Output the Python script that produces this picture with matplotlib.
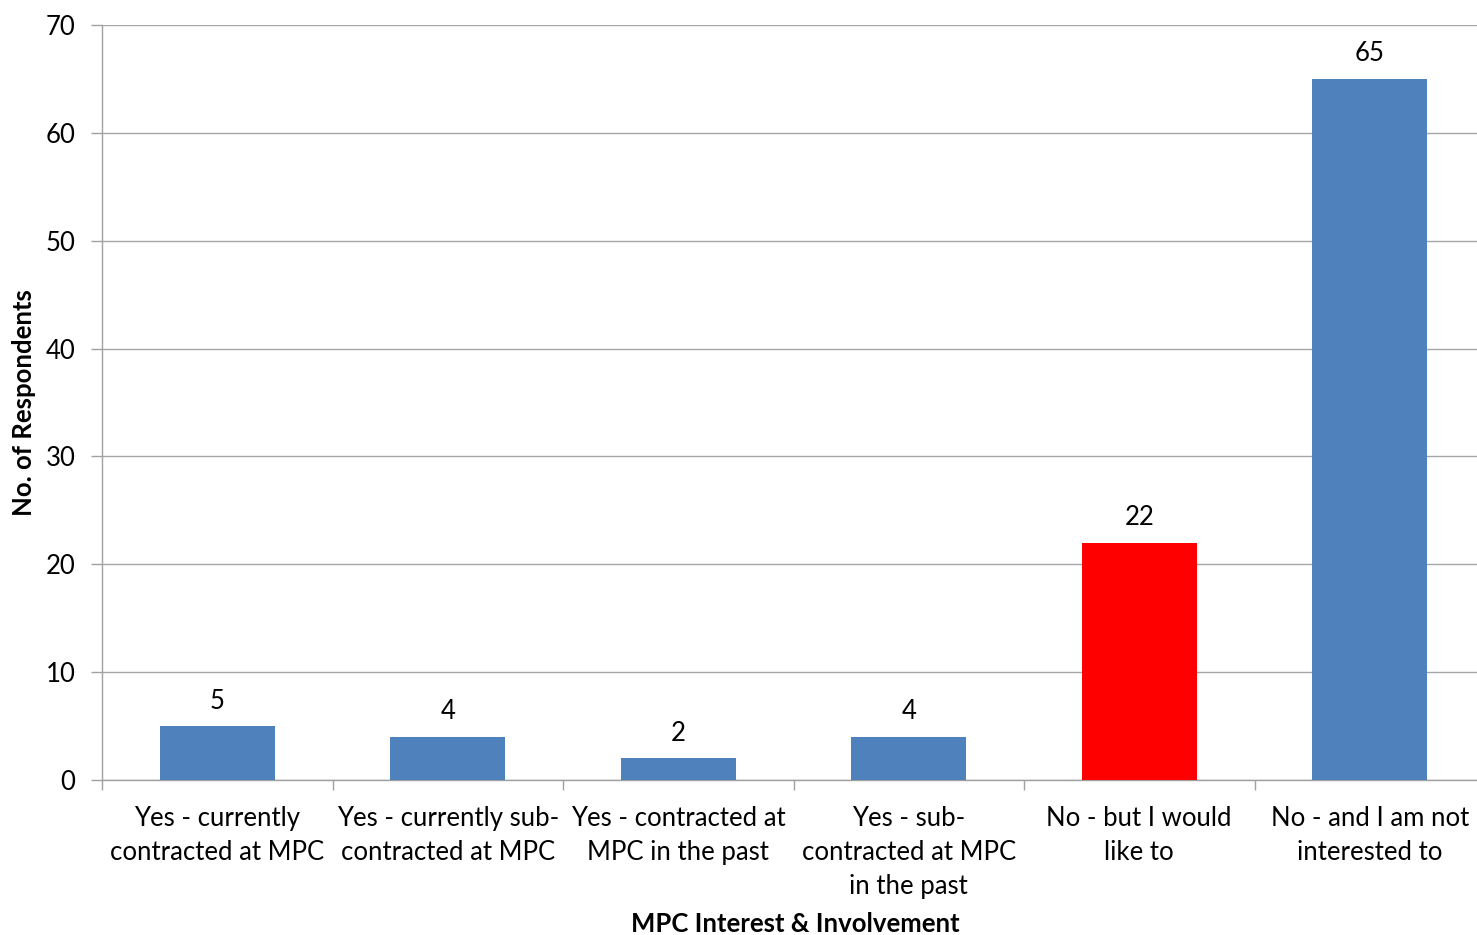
import matplotlib
matplotlib.use("Agg")
import matplotlib.pyplot as plt

categories = [
    "Yes - currently\ncontracted at MPC",
    "Yes - currently sub-\ncontracted at MPC",
    "Yes - contracted at\nMPC in the past",
    "Yes - sub-\ncontracted at MPC\nin the past",
    "No - but I would\nlike to",
    "No - and I am not\ninterested to",
]
respondents = [5, 4, 2, 4, 22, 65]
bar_colors = ["#4F81BD", "#4F81BD", "#4F81BD", "#4F81BD", "#FF0000", "#4F81BD"]
y_ticks = [0, 10, 20, 30, 40, 50, 60, 70]

plt.rcParams["font.family"] = ["Lato", "DejaVu Sans"]

fig = plt.figure(figsize=(14.77, 9.35), dpi=100)
ax = fig.add_axes([102 / 1477, 1 - 780 / 935, (1485 - 102) / 1477, (780 - 25) / 935])

x = list(range(len(categories)))
ax.bar(x, respondents, width=0.5, color=bar_colors, zorder=3)
for xi, v in zip(x, respondents):
    ax.annotate(str(v), (xi, v), xytext=(0, 9), textcoords="offset points",
                ha="center", va="bottom", fontsize=18.5, color="#000000")

ax.set_xlim(-0.5, len(categories) - 0.5)
ax.set_ylim(0, 70)
ax.set_yticks(y_ticks)
ax.tick_params(axis="y", labelsize=18.5, length=8, width=1, color="#A0A0A0", pad=11)
ax.yaxis.grid(True, color="#A6A6A6", linewidth=1, zorder=0)

ax.set_xticks(x)
ax.set_xticklabels(categories, fontsize=18.5, linespacing=1.47)
ax.tick_params(axis="x", length=0, pad=18.5)
ax.set_xticks([i - 0.5 for i in range(len(categories) + 1)], minor=True)
ax.tick_params(axis="x", which="minor", length=7, width=1, color="#A0A0A0")

for side in ["top", "right"]:
    ax.spines[side].set_visible(False)
for side in ["left", "bottom"]:
    ax.spines[side].set_color("#A0A0A0")
    ax.spines[side].set_linewidth(1)

ax.set_ylabel("No. of Respondents", fontsize=18.5, fontweight="bold")
ax.yaxis.set_label_coords(-(102 - 24) / (1485 - 102), 0.5)
ax.yaxis.label.set_va("center")
ax.set_xlabel("MPC Interest & Involvement", fontsize=18.5, fontweight="bold")
ax.xaxis.set_label_coords((795 - 102) / (1485 - 102), -(924 - 780) / (780 - 25))
ax.xaxis.label.set_va("center")

fig.savefig("out.png", dpi=100, facecolor="white")
